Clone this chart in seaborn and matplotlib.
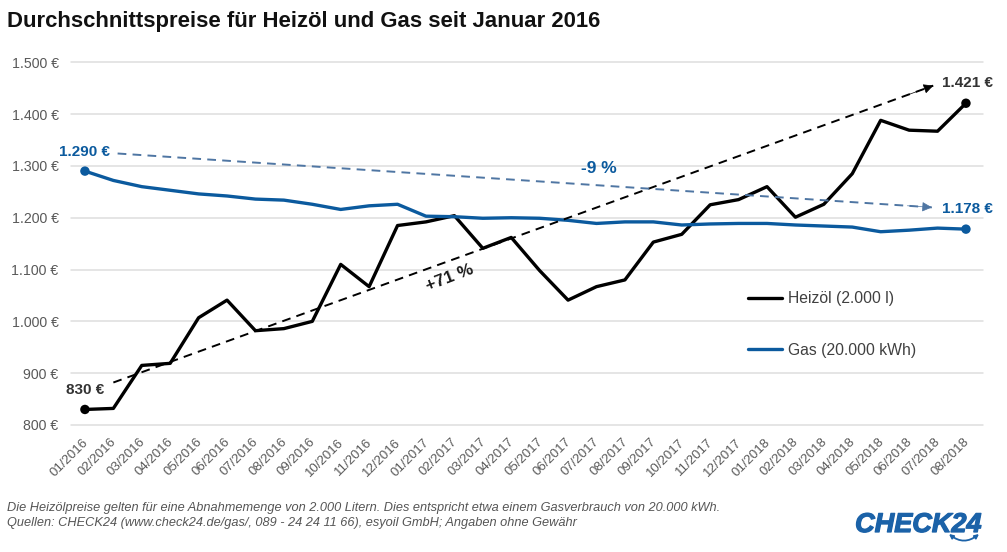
import pandas as pd
import seaborn as sns
import matplotlib.pyplot as plt
import matplotlib.patheffects as pe
from matplotlib.patches import FancyArrowPatch
from matplotlib.transforms import ScaledTranslation

months = ['01/2016', '02/2016', '03/2016', '04/2016', '05/2016', '06/2016', '07/2016', '08/2016',
          '09/2016', '10/2016', '11/2016', '12/2016', '01/2017', '02/2017', '03/2017', '04/2017',
          '05/2017', '06/2017', '07/2017', '08/2017', '09/2017', '10/2017', '11/2017', '12/2017',
          '01/2018', '02/2018', '03/2018', '04/2018', '05/2018', '06/2018', '07/2018', '08/2018']
heizoel = [830, 832, 915, 919, 1007, 1041, 982, 986, 1000, 1110, 1067, 1185, 1192, 1204, 1141, 1162,
           1098, 1041, 1067, 1080, 1153, 1168, 1225, 1235, 1260, 1201, 1226, 1285, 1388, 1369, 1367, 1421]
gas = [1290, 1272, 1260, 1253, 1246, 1242, 1236, 1234, 1226, 1216, 1223, 1226, 1203, 1202, 1199, 1200,
       1199, 1195, 1189, 1192, 1192, 1186, 1188, 1189, 1189, 1186, 1184, 1182, 1173, 1176, 1180, 1178]
y_ticks = [800, 900, 1000, 1100, 1200, 1300, 1400, 1500]
y_labels = ['800 €', '900 €', '1.000 €', '1.100 €', '1.200 €', '1.300 €', '1.400 €', '1.500 €']
series_names = ['Heizöl (2.000 l)', 'Gas (20.000 kWh)']

BLUE = '#0b5a9e'
LOGO_BLUE = '#1b62a8'
W, H = 1007, 552


def trend_arrow(ax, start, end, color):
    """Dashed line with a solid head, the head is a short piece at the end."""
    ax.plot([start[0], end[0]], [start[1], end[1]], color=color, linewidth=1.4,
            linestyle=(0, (4.5, 3.2)), zorder=3)
    frac = 0.03
    tail = (end[0] - (end[0] - start[0]) * frac, end[1] - (end[1] - start[1]) * frac)
    ax.add_patch(FancyArrowPatch(tail, end, arrowstyle='-|>', mutation_scale=15, color=color,
                                 linewidth=0.5, shrinkA=0, shrinkB=0, zorder=3))


sns.set_theme(style='white')
plt.rcParams['font.family'] = ['Liberation Sans', 'DejaVu Sans']

df = pd.DataFrame({'month': months, series_names[0]: heizoel, series_names[1]: gas})
long_df = df.melt(id_vars='month', var_name='series', value_name='price')
ends = long_df[long_df['month'].isin([months[0], months[-1]])]

fig = plt.figure(figsize=(W / 100, H / 100), dpi=100)
ax = fig.add_axes([71 / W, 1 - 425 / H, (983 - 71) / W, (425 - 62.3) / H])

palette = {series_names[0]: 'black', series_names[1]: BLUE}
sns.lineplot(data=long_df, x='month', y='price', hue='series', palette=palette,
             linewidth=2.4, sort=False, ax=ax)
sns.scatterplot(data=ends, x='month', y='price', hue='series', palette=palette,
                s=46, linewidth=0, legend=False, zorder=5, ax=ax)

ax.set_xlim(-0.49, 31.6)
ax.set_ylim(800, 1500)
ax.set_yticks(y_ticks, y_labels)
ax.set_xlabel('')
ax.set_ylabel('')
ax.grid(axis='y', color='#dedede', linewidth=1.1)
ax.set_axisbelow(True)
for gl in ax.get_ygridlines():
    gl.set_clip_on(False)
sns.despine(ax=ax, left=True, bottom=True)
ax.tick_params(axis='y', length=0, pad=9, labelsize=10.2, labelcolor='#595959')
ax.tick_params(axis='x', length=0, pad=8, labelsize=9.5, labelcolor='#595959')
shift = ScaledTranslation(-3 / 100, 0, fig.dpi_scale_trans)
for lab in ax.get_xticklabels():
    lab.set_rotation(45)
    lab.set_ha('right')
    lab.set_va('top')
    lab.set_rotation_mode('anchor')
    lab.set_transform(lab.get_transform() + shift)

trend_arrow(ax, (1.0, 882), (29.85, 1455), 'black')
trend_arrow(ax, (1.15, 1324), (29.8, 1220), '#4f76a3')

# value labels
ax.text(0, 1327, '1.290 €', color=BLUE, fontsize=11, fontweight='bold', ha='center', va='center')
ax.text(0, 867, '830 €', color='#333333', fontsize=11, fontweight='bold', ha='center', va='center')
ax.text(31.05, 1460, '1.421 €', color='#333333', fontsize=11, fontweight='bold', ha='center', va='center')
ax.text(31.05, 1217, '1.178 €', color=BLUE, fontsize=11, fontweight='bold', ha='center', va='center')
ax.text(18.1, 1295, '-9 %', color=BLUE, fontsize=12.5, fontweight='bold', ha='center', va='center')
ax.text(12.85, 1084, '+71 %', color='#1a1a1a', fontsize=12.5, fontweight='bold', rotation=21,
        ha='center', va='center')

handles, labels = ax.get_legend_handles_labels()
leg = ax.legend(handles, labels, frameon=False, loc='upper left', bbox_to_anchor=(0.7423, 0.369),
                fontsize=11.3, labelspacing=2.33, handlelength=2.17, handletextpad=0.38,
                labelcolor='#404040', borderpad=0, borderaxespad=0)
for line in leg.get_lines():
    line.set_linewidth(2.4)

fig.text(7 / W, 1 - 21 / H, 'Durchschnittspreise für Heizöl und Gas seit Januar 2016',
         fontsize=15.95, fontweight='bold', color='#111111', ha='left', va='center')
fig.text(7 / W, 1 - 508 / H,
         'Die Heizölpreise gelten für eine Abnahmemenge von 2.000 Litern. '
         'Dies entspricht etwa einem Gasverbrauch von 20.000 kWh.',
         fontsize=9.2, style='italic', color='#555555', ha='left', va='center')
fig.text(7 / W, 1 - 523 / H,
         'Quellen: CHECK24 (www.check24.de/gas/, 089 - 24 24 11 66), esyoil GmbH; Angaben ohne Gewähr',
         fontsize=9.2, style='italic', color='#555555', ha='left', va='center')

# logo
logo = fig.text(982 / W, 1 - 532 / H, 'CHECK24', fontsize=19.5, fontweight='bold', style='italic',
                color=LOGO_BLUE, ha='right', va='baseline')
logo.set_path_effects([pe.withStroke(linewidth=0.9, foreground=LOGO_BLUE)])
fig.add_artist(FancyArrowPatch((949 / W, 1 - 534 / H), (979 / W, 1 - 534 / H),
                               connectionstyle='arc3,rad=0.4', arrowstyle='<|-|>', mutation_scale=6,
                               color=LOGO_BLUE, linewidth=1.3, transform=fig.transFigure,
                               shrinkA=0, shrinkB=0))

fig.savefig('out.png', dpi=100, facecolor='white')
